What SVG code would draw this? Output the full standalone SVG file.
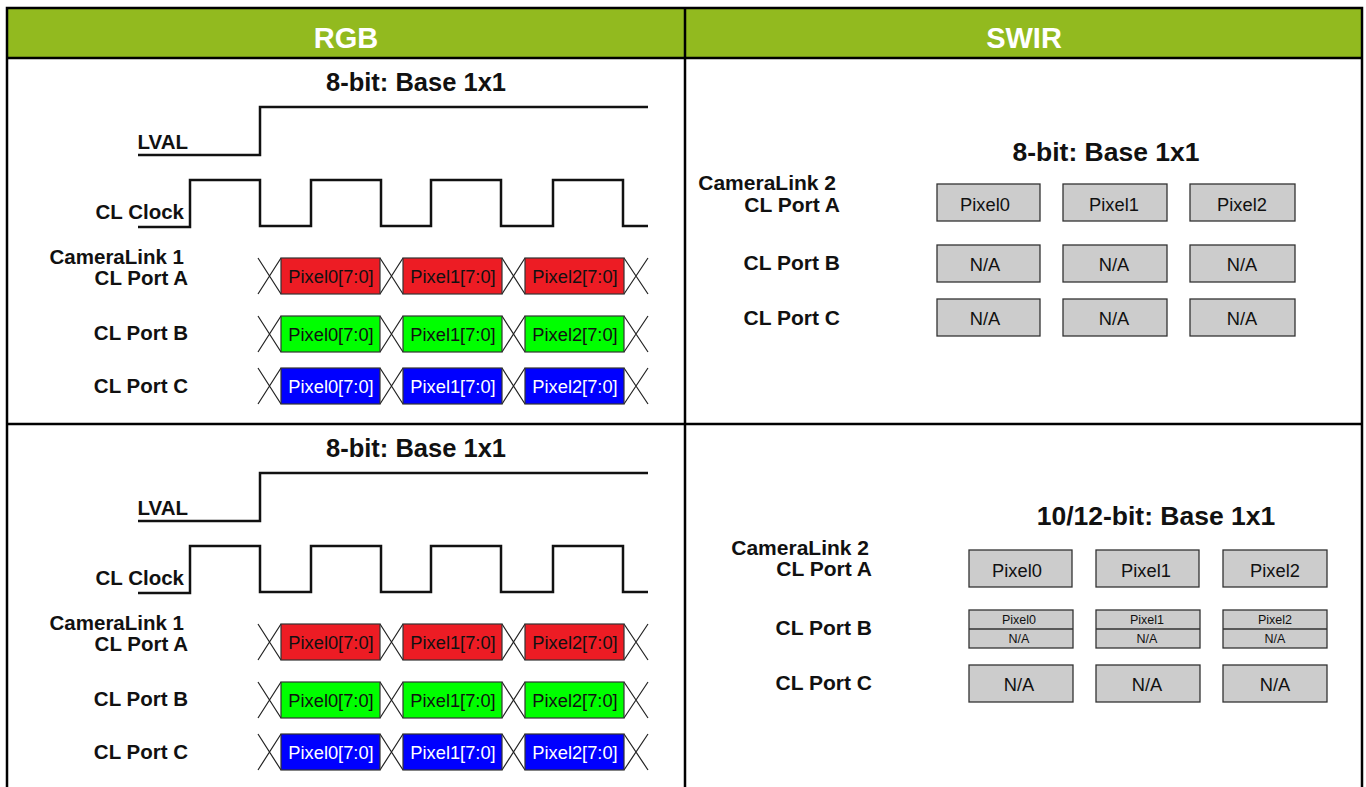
<svg xmlns="http://www.w3.org/2000/svg" width="1366" height="787" viewBox="0 0 1366 787">
  <style>
    text { font-family: "Liberation Sans", Arial, sans-serif; }
    .hdr { font-size: 29px; font-weight: bold; fill: #ffffff; text-anchor: middle; }
    .title { font-size: 25.5px; font-weight: bold; fill: #111; text-anchor: middle; }
    .title2 { font-size: 26.5px; font-weight: bold; fill: #111; text-anchor: middle; }
    .lbl { font-size: 20.5px; font-weight: bold; fill: #111; text-anchor: end; }
    .lbl2 { font-size: 21px; font-weight: bold; fill: #111; text-anchor: end; }
    .cell { font-size: 18.3px; fill: #111; text-anchor: middle; }
    .cellw { font-size: 18.3px; fill: #ffffff; text-anchor: middle; }
    .small { font-size: 12.5px; fill: #111; text-anchor: middle; }
    .grid { stroke: #000; stroke-width: 2.5; fill: none; }
    .wave { stroke: #111; stroke-width: 2.5; fill: none; stroke-linejoin: miter; }
    .xing { stroke: #222; stroke-width: 1.2; fill: none; }
    .red { fill: #ED1C24; stroke: #333; stroke-width: 1.2; }
    .grn { fill: #00FF00; stroke: #333; stroke-width: 1.2; }
    .blu { fill: #0000FF; stroke: #333; stroke-width: 1.2; }
    .gray { fill: #CCCCCC; stroke: #333; stroke-width: 1.3; }
  </style>
  <defs>
    <!-- crossing marks between data words, one lane tall (36px) -->
    <g id="lane-x">
      <path class="xing" d="M258,0 L281,36 M258,36 L281,0 M380,0 L403,36 M380,36 L403,0 M502,0 L525,36 M502,36 L525,0 M624,0 L648,36 M624,36 L648,0"/>
    </g>
    <!-- LVAL and CL clock waveforms -->
    <g id="waves">
      <path class="wave" d="M138,155 H260 V107 H648"/>
      <path class="wave" d="M138,227 H190 V180 H260 V226 H311 V180 H381 V226 H431 V180 H501 V226 H553 V180 H623 V226 H648"/>
    </g>
  </defs>

  <!-- table frame and header -->
  <g id="table">
    <rect x="7" y="8" width="1355" height="50" fill="#92BA1F"/>
    <rect class="grid" x="7" y="8" width="1355" height="790"/>
    <line class="grid" x1="7" y1="58" x2="1362" y2="58"/>
    <line class="grid" x1="685" y1="8" x2="685" y2="790"/>
    <line class="grid" x1="7" y1="424" x2="1362" y2="424"/>
    <text class="hdr" x="346" y="48">RGB</text>
    <text class="hdr" x="1024" y="48">SWIR</text>
  </g>

  <!-- RGB, first row -->
  <g id="rgb-top">
    <text class="title" x="416" y="91">8-bit: Base 1x1</text>
    <use href="#waves"/>
    <text class="lbl" x="188" y="149">LVAL</text>
    <text class="lbl" x="184" y="219">CL Clock</text>
    <text class="lbl" x="184" y="264">CameraLink 1</text>
    <text class="lbl" x="188" y="285">CL Port A</text>
    <text class="lbl" x="188" y="340">CL Port B</text>
    <text class="lbl" x="188" y="393">CL Port C</text>
    <use href="#lane-x" y="258"/>
    <use href="#lane-x" y="316"/>
    <use href="#lane-x" y="368"/>
    <rect class="red" x="281" y="258" width="99" height="36"/>
    <rect class="red" x="403" y="258" width="99" height="36"/>
    <rect class="red" x="525" y="258" width="99" height="36"/>
    <text class="cell" x="331" y="283">Pixel0[7:0]</text>
    <text class="cell" x="453" y="283">Pixel1[7:0]</text>
    <text class="cell" x="575" y="283">Pixel2[7:0]</text>
    <rect class="grn" x="281" y="316" width="99" height="36"/>
    <rect class="grn" x="403" y="316" width="99" height="36"/>
    <rect class="grn" x="525" y="316" width="99" height="36"/>
    <text class="cell" x="331" y="341">Pixel0[7:0]</text>
    <text class="cell" x="453" y="341">Pixel1[7:0]</text>
    <text class="cell" x="575" y="341">Pixel2[7:0]</text>
    <rect class="blu" x="281" y="368" width="99" height="36"/>
    <rect class="blu" x="403" y="368" width="99" height="36"/>
    <rect class="blu" x="525" y="368" width="99" height="36"/>
    <text class="cellw" x="331" y="393">Pixel0[7:0]</text>
    <text class="cellw" x="453" y="393">Pixel1[7:0]</text>
    <text class="cellw" x="575" y="393">Pixel2[7:0]</text>
  </g>

  <!-- RGB, second row -->
  <g id="rgb-bottom" transform="translate(0,366)">
    <text class="title" x="416" y="91">8-bit: Base 1x1</text>
    <use href="#waves"/>
    <text class="lbl" x="188" y="149">LVAL</text>
    <text class="lbl" x="184" y="219">CL Clock</text>
    <text class="lbl" x="184" y="264">CameraLink 1</text>
    <text class="lbl" x="188" y="285">CL Port A</text>
    <text class="lbl" x="188" y="340">CL Port B</text>
    <text class="lbl" x="188" y="393">CL Port C</text>
    <use href="#lane-x" y="258"/>
    <use href="#lane-x" y="316"/>
    <use href="#lane-x" y="368"/>
    <rect class="red" x="281" y="258" width="99" height="36"/>
    <rect class="red" x="403" y="258" width="99" height="36"/>
    <rect class="red" x="525" y="258" width="99" height="36"/>
    <text class="cell" x="331" y="283">Pixel0[7:0]</text>
    <text class="cell" x="453" y="283">Pixel1[7:0]</text>
    <text class="cell" x="575" y="283">Pixel2[7:0]</text>
    <rect class="grn" x="281" y="316" width="99" height="36"/>
    <rect class="grn" x="403" y="316" width="99" height="36"/>
    <rect class="grn" x="525" y="316" width="99" height="36"/>
    <text class="cell" x="331" y="341">Pixel0[7:0]</text>
    <text class="cell" x="453" y="341">Pixel1[7:0]</text>
    <text class="cell" x="575" y="341">Pixel2[7:0]</text>
    <rect class="blu" x="281" y="368" width="99" height="36"/>
    <rect class="blu" x="403" y="368" width="99" height="36"/>
    <rect class="blu" x="525" y="368" width="99" height="36"/>
    <text class="cellw" x="331" y="393">Pixel0[7:0]</text>
    <text class="cellw" x="453" y="393">Pixel1[7:0]</text>
    <text class="cellw" x="575" y="393">Pixel2[7:0]</text>
  </g>

  <!-- SWIR, 8-bit -->
  <g id="swir-8bit">
    <text class="title2" x="1106" y="161">8-bit: Base 1x1</text>
    <text class="lbl2" x="836" y="190">CameraLink 2</text>
    <text class="lbl2" x="840" y="212">CL Port A</text>
    <text class="lbl2" x="840" y="270">CL Port B</text>
    <text class="lbl2" x="840" y="325">CL Port C</text>
    <rect class="gray" x="937" y="184" width="103" height="37"/>
    <rect class="gray" x="1063" y="184" width="104" height="37"/>
    <rect class="gray" x="1190" y="184" width="105" height="37"/>
    <text class="cell" x="985" y="211">Pixel0</text>
    <text class="cell" x="1114" y="211">Pixel1</text>
    <text class="cell" x="1242" y="211">Pixel2</text>
    <rect class="gray" x="937" y="245" width="103" height="37"/>
    <rect class="gray" x="1063" y="245" width="104" height="37"/>
    <rect class="gray" x="1190" y="245" width="105" height="37"/>
    <text class="cell" x="985" y="271">N/A</text>
    <text class="cell" x="1114" y="271">N/A</text>
    <text class="cell" x="1242" y="271">N/A</text>
    <rect class="gray" x="937" y="299" width="103" height="37"/>
    <rect class="gray" x="1063" y="299" width="104" height="37"/>
    <rect class="gray" x="1190" y="299" width="105" height="37"/>
    <text class="cell" x="985" y="325">N/A</text>
    <text class="cell" x="1114" y="325">N/A</text>
    <text class="cell" x="1242" y="325">N/A</text>
  </g>

  <!-- SWIR, 10/12-bit -->
  <g id="swir-10-12bit">
    <text class="title2" x="1156" y="525">10/12-bit: Base 1x1</text>
    <text class="lbl2" x="869" y="555">CameraLink 2</text>
    <text class="lbl2" x="872" y="576">CL Port A</text>
    <text class="lbl2" x="872" y="635">CL Port B</text>
    <text class="lbl2" x="872" y="690">CL Port C</text>
    <rect class="gray" x="969" y="550" width="103" height="37"/>
    <rect class="gray" x="1096" y="550" width="103" height="37"/>
    <rect class="gray" x="1223" y="550" width="104" height="37"/>
    <text class="cell" x="1017" y="577">Pixel0</text>
    <text class="cell" x="1146" y="577">Pixel1</text>
    <text class="cell" x="1275" y="577">Pixel2</text>
    <rect class="gray" x="969" y="610" width="104" height="38"/>
    <rect class="gray" x="1096" y="610" width="104" height="38"/>
    <rect class="gray" x="1223" y="610" width="104" height="38"/>
    <path stroke="#333" stroke-width="1.3" d="M969,629 H1073 M1096,629 H1200 M1223,629 H1327"/>
    <text class="small" x="1019" y="624">Pixel0</text>
    <text class="small" x="1147" y="624">Pixel1</text>
    <text class="small" x="1275" y="624">Pixel2</text>
    <text class="small" x="1019" y="643">N/A</text>
    <text class="small" x="1147" y="643">N/A</text>
    <text class="small" x="1275" y="643">N/A</text>
    <rect class="gray" x="969" y="665" width="104" height="37"/>
    <rect class="gray" x="1096" y="665" width="104" height="37"/>
    <rect class="gray" x="1223" y="665" width="104" height="37"/>
    <text class="cell" x="1019" y="691">N/A</text>
    <text class="cell" x="1147" y="691">N/A</text>
    <text class="cell" x="1275" y="691">N/A</text>
  </g>
</svg>
